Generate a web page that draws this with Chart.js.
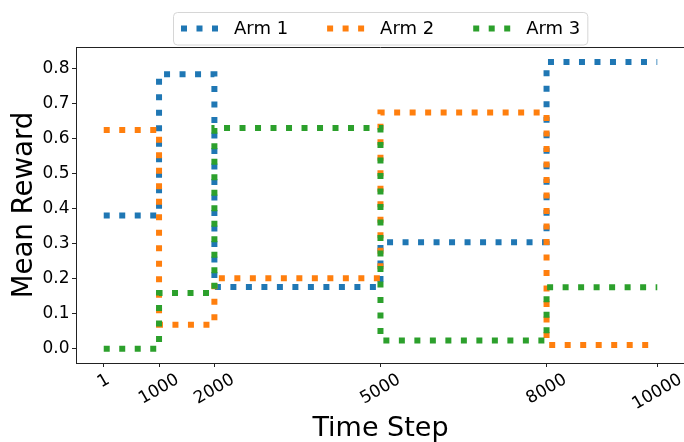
<!DOCTYPE html>
<html>
<head>
<meta charset="utf-8">
<script src="https://cdn.jsdelivr.net/npm/chart.js@4/dist/chart.umd.min.js"></script>
<style>
  html, body { margin: 0; padding: 0; background: #fff; overflow: hidden; }
  #wrap { width: 700px; height: 442px; }
</style>
</head>
<body>
<div id="wrap"><canvas id="armChart" width="700" height="442"></canvas></div>
<script>
// step boundaries (time step where each arm's mean changes)
const steps  = [1, 1000, 2000, 5000, 8000, 10000];
const arm1   = [0.380, 0.783, 0.176, 0.304, 0.818, 0.818];
const arm2   = [0.624, 0.068, 0.201, 0.674, 0.0105, 0.0105];
const arm3   = [0.000, 0.159, 0.630, 0.023, 0.175, 0.175];
const armNames = ["Arm 1", "Arm 2", "Arm 3"];
const xTicks = [1, 1000, 2000, 5000, 8000, 10000];
const yTicks = [0, 0.1, 0.2, 0.3, 0.4, 0.5, 0.6, 0.7, 0.8];

const colors = ["#1f77b4", "#ff7f0e", "#2ca02c"];
const DASH   = [6, 9.5];
const FONT   = '"DejaVu Sans", "Liberation Sans", sans-serif';

Chart.defaults.font.family = FONT;
Chart.defaults.color = "#000";

const toPoints = ys => steps.map((x, i) => ({ x, y: ys[i] }));

// matplotlib-like extras: top spine, centred rotated x labels, boxed legend
const extras = {
  id: "extras",
  afterDraw(chart) {
    const { ctx, chartArea: a } = chart;
    const xs = chart.scales.x;
    ctx.save();

    ctx.strokeStyle = "#222";
    ctx.lineWidth = 1;
    ctx.beginPath();
    ctx.moveTo(a.left, Math.round(a.top) + 0.5);
    ctx.lineTo(a.right, Math.round(a.top) + 0.5);
    ctx.stroke();

    // x tick labels, rotated 30deg, centred on tick
    const rot = Math.PI / 6;
    ctx.font = "17px " + FONT;
    ctx.fillStyle = "#000";
    ctx.textAlign = "center";
    ctx.textBaseline = "middle";
    xTicks.forEach(v => {
      const label = String(v);
      const w = ctx.measureText(label).width;
      const h = 17 * 1.17;
      const H = w * Math.sin(rot) + h * Math.cos(rot);
      ctx.save();
      ctx.translate(xs.getPixelForValue(v), a.bottom + 7 + H / 2);
      ctx.rotate(-rot);
      ctx.fillText(label, 0, 0);
      ctx.restore();
    });

    // legend
    ctx.font = "18px " + FONT;
    const handle = 37, hpad = 16, colSp = 39, pad = 7.5;
    const widths = armNames.map(n => ctx.measureText(n).width);
    const W = pad * 2 + widths.reduce((s, w) => s + handle + hpad + w, 0) + colSp * (armNames.length - 1);
    const cx = (a.left + a.right) / 2;
    const bx = Math.round(cx - W / 2) + 0.5, by = 12.5, bh = 32.5;
    ctx.beginPath();
    ctx.roundRect(bx, by, W, bh, 4);
    ctx.fillStyle = "rgba(255,255,255,0.8)";
    ctx.fill();
    ctx.strokeStyle = "#d6d6d6";
    ctx.lineWidth = 1;
    ctx.stroke();

    let x = bx + pad;
    const ly = 28.5;
    armNames.forEach((name, i) => {
      ctx.save();
      ctx.strokeStyle = colors[i];
      ctx.lineWidth = 6;
      ctx.lineCap = "butt";
      ctx.setLineDash(DASH);
      ctx.beginPath();
      ctx.moveTo(x, ly);
      ctx.lineTo(x + handle, ly);
      ctx.stroke();
      ctx.restore();
      ctx.fillStyle = "#000";
      ctx.textAlign = "left";
      ctx.fillText(name, x + handle + hpad, ly + 0.5);
      x += handle + hpad + widths[i] + colSp;
    });

    ctx.restore();
  }
};

const series = [arm1, arm2, arm3];

new Chart(document.getElementById("armChart"), {
  type: "line",
  data: {
    datasets: series.map((ys, i) => ({
      label: armNames[i],
      data: toPoints(ys),
      borderColor: colors[i],
      borderWidth: 6,
      borderDash: DASH,
      borderCapStyle: "butt",
      borderJoinStyle: "miter",
      stepped: "before",
      pointRadius: 0,
      fill: false,
      order: 3 - i
    }))
  },
  options: {
    responsive: false,
    animation: false,
    devicePixelRatio: 1,
    layout: { padding: { top: 47, right: 15, left: 0, bottom: 0 } },
    plugins: {
      legend: { display: false },
      tooltip: { enabled: false }
    },
    scales: {
      x: {
        type: "linear",
        min: -499.95,
        max: 10500.95,
        afterBuildTicks: s => { s.ticks = xTicks.map(v => ({ value: v })); },
        afterFit: s => { s.height = 79; },
        ticks: { display: false },
        grid: { drawOnChartArea: false, drawTicks: true, tickLength: 4, color: "#222", lineWidth: 1 },
        border: { display: true, color: "#222", width: 1 },
        title: {
          display: true,
          text: "Time Step",
          font: { size: 27, lineHeight: 0.95 },
          padding: { top: 0, bottom: 0 }
        }
      },
      y: {
        min: -0.041,
        max: 0.861,
        afterBuildTicks: s => { s.ticks = yTicks.map(v => ({ value: v })); },
        afterFit: s => { s.width = 76; },
        ticks: {
          font: { size: 17 },
          padding: 2.5,
          callback: v => v.toFixed(1)
        },
        grid: { drawOnChartArea: false, drawTicks: true, tickLength: 4, color: "#222", lineWidth: 1 },
        border: { display: true, color: "#222", width: 1 },
        title: {
          display: true,
          text: "Mean Reward",
          font: { size: 27.6 },
          padding: { top: 8, bottom: 0 }
        }
      }
    }
  },
  plugins: [extras]
});
</script>
</body>
</html>
